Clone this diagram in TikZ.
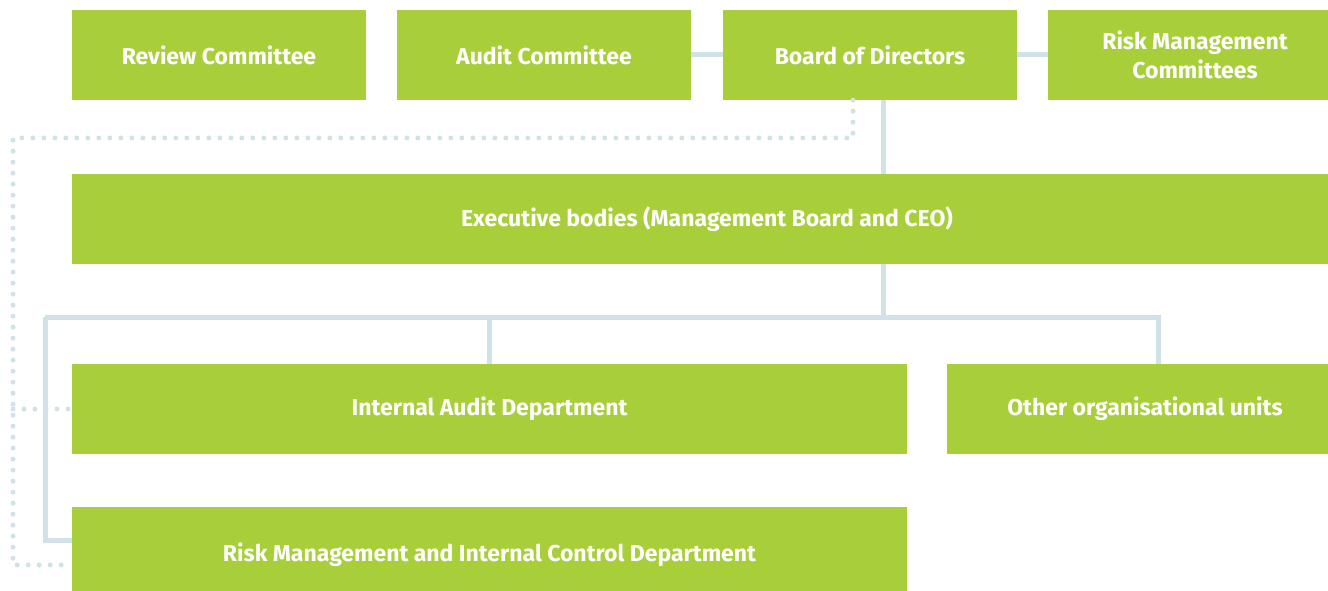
\documentclass[tikz,border=0pt]{standalone}
\usepackage{fontspec}
\setmainfont{Fira Sans}
\usetikzlibrary{positioning}

\definecolor{boxgreen}{HTML}{A8CE3A}
\definecolor{linkblue}{HTML}{D0E1E8}

\begin{document}
\begin{tikzpicture}[
  x=1pt, y=-1pt,
  box/.style={rectangle, fill=boxgreen, text=white, minimum height=90pt,
    inner sep=0pt, align=center, font=\fontsize{23}{29}\selectfont\bfseries},
  link/.style={draw=linkblue, line width=5pt},
  dotlink/.style={draw=linkblue, line width=5pt, line cap=round,
    dash pattern=on 0pt off 11pt}
]
\useasboundingbox (0,0) rectangle (1328,591);

% top row
\node[box, minimum width=294pt] (review) at (219,55) {Review Committee};
\node[box, minimum width=294pt] (audit) at (544,55) {Audit Committee};
\node[box, minimum width=294pt] (board) at (870,55) {Board of Directors};
\node[box, minimum width=294pt] (riskcom) at (1195,55) {Risk Management\\Committees};

% executive level
\node[box, minimum width=1270pt] (exec) at (707,219) {Executive bodies (Management Board and CEO)};

% departments
\node[box, minimum width=835pt] (internal) at (489.5,409) {Internal Audit Department};
\node[box, minimum width=396pt] (other) at (1145,409) {Other organisational units};
\node[box, minimum width=835pt, minimum height=96pt] (riskdep) at (489.5,555)
  {Risk Management and Internal Control Department};

% corner points
\coordinate (trunk) at (883,100);
\coordinate (busL) at (45,317);
\coordinate (busR) at (1158,317);
\coordinate (dotT) at (853,138);
\coordinate (dotL) at (13,138);

% solid links
\draw[link] (audit.east) -- (board.west);
\draw[link] (board.east) -- (riskcom.west);
\draw[link] (board.south -| trunk) -- (exec.north -| trunk);
\draw[link] (exec.south -| trunk) -- (trunk |- busL);
\draw[link] (busL) -- (busR) -- (other.north -| busR);
\draw[link] (internal.north) -- (internal.north |- busL);
\draw[link] (busL) |- ([yshift=15pt]riskdep.west);

% dotted links
\draw[dotlink] (board.south -| dotT) -- (dotT) -- (dotL) |- ([yshift=-10pt]riskdep.west);
\draw[dotlink] (dotL |- internal.west) -- (internal.west);
\end{tikzpicture}
\end{document}
